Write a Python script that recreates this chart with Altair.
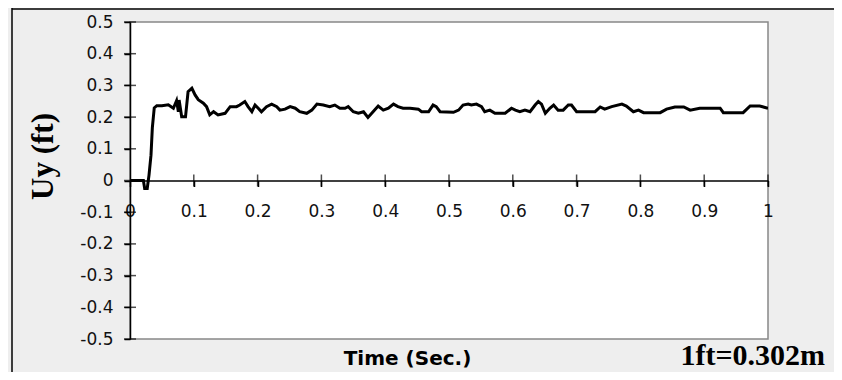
import altair as alt
import pandas as pd

# Time (s) and vertical displacement Uy (ft)
t = [0, 0.021, 0.023, 0.027, 0.0298, 0.0329, 0.035, 0.038, 0.042, 0.050, 0.060, 0.068,
     0.073, 0.0758, 0.077, 0.081, 0.087, 0.091, 0.097, 0.102, 0.107, 0.115, 0.120, 0.125,
     0.131, 0.138, 0.149, 0.157, 0.167, 0.172, 0.180, 0.185, 0.191, 0.196, 0.201, 0.206,
     0.214, 0.222, 0.230, 0.235, 0.243, 0.251, 0.259, 0.266, 0.277, 0.285, 0.293, 0.303,
     0.313, 0.321, 0.329, 0.337, 0.342, 0.350, 0.358, 0.366, 0.373, 0.381, 0.389, 0.397,
     0.405, 0.413, 0.420, 0.428, 0.439, 0.452, 0.457, 0.468, 0.475, 0.480, 0.486, 0.507,
     0.515, 0.522, 0.530, 0.535, 0.543, 0.551, 0.556, 0.564, 0.572, 0.588, 0.598, 0.604,
     0.611, 0.619, 0.627, 0.635, 0.640, 0.645, 0.651, 0.658, 0.664, 0.671, 0.679, 0.687,
     0.692, 0.700, 0.713, 0.729, 0.737, 0.744, 0.755, 0.771, 0.778, 0.789, 0.797, 0.805,
     0.831, 0.841, 0.854, 0.868, 0.878, 0.893, 0.925, 0.930, 0.961, 0.972, 0.987, 1.0]
uy = [0, 0, -0.025, -0.025, 0.017, 0.08, 0.166, 0.229, 0.236, 0.236, 0.239, 0.228,
      0.252, 0.217, 0.254, 0.201, 0.201, 0.280, 0.291, 0.270, 0.255, 0.244, 0.233, 0.207,
      0.217, 0.207, 0.212, 0.233, 0.233, 0.238, 0.249, 0.233, 0.217, 0.238, 0.228, 0.217,
      0.233, 0.241, 0.233, 0.222, 0.225, 0.233, 0.228, 0.217, 0.212, 0.222, 0.241, 0.238,
      0.233, 0.238, 0.228, 0.228, 0.233, 0.217, 0.212, 0.217, 0.199, 0.217, 0.235, 0.222,
      0.228, 0.241, 0.233, 0.228, 0.228, 0.225, 0.217, 0.217, 0.238, 0.233, 0.217, 0.215,
      0.222, 0.238, 0.241, 0.238, 0.241, 0.233, 0.217, 0.222, 0.212, 0.212, 0.228, 0.222,
      0.217, 0.222, 0.217, 0.238, 0.249, 0.241, 0.212, 0.228, 0.238, 0.222, 0.222, 0.238,
      0.238, 0.217, 0.217, 0.217, 0.232, 0.225, 0.233, 0.241, 0.235, 0.217, 0.222, 0.214,
      0.214, 0.225, 0.232, 0.232, 0.222, 0.228, 0.228, 0.214, 0.214, 0.235, 0.235, 0.228]

x_ticks = [0, 0.1, 0.2, 0.3, 0.4, 0.5, 0.6, 0.7, 0.8, 0.9, 1]
y_ticks = [-0.5, -0.4, -0.3, -0.2, -0.1, 0, 0.1, 0.2, 0.3, 0.4, 0.5]
x_title = "Time (Sec.)"
y_title = "Uy (ft)"
note = "1ft=0.302m"

df = pd.DataFrame({"t": t, "uy": uy})
xt_df = pd.DataFrame({"t": x_ticks[1:], "uy": [0] * (len(x_ticks) - 1)})
yt_df = pd.DataFrame({"t": [0] * len(y_ticks), "uy": y_ticks})

label_expr = "replace(format(datum.value, '~g'), '\u2212', '-')"
x_scale = alt.Scale(domain=[0, 1], nice=False)
y_scale = alt.Scale(domain=[-0.5, 0.5], nice=False)

x_axis = alt.Axis(values=x_ticks, orient="bottom", offset=-158.5,
                  labelExpr=label_expr, labelOverlap=False, labelFlush=False,
                  labelBound=False,
                  domainColor="black", domainWidth=1.5, tickColor="black",
                  tickWidth=1.5, tickSize=6, labelPadding=17,
                  labelFont="DejaVu Sans", labelFontSize=17, labelColor="#111111",
                  grid=False, title=x_title, titleFont="DejaVu Sans",
                  titleFontSize=20, titleFontWeight="bold", titleColor="black",
                  titleX=277, titleY=178, titleAlign="center",
                  titleBaseline="middle")
y_axis = alt.Axis(values=y_ticks, labelExpr=label_expr, labelOverlap=False,
                  labelFlush=False, labelBound=False,
                  domainColor="black", domainWidth=1.5,
                  tickColor="black", tickWidth=1.5, tickSize=6, labelPadding=11,
                  labelFont="DejaVu Sans", labelFontSize=17, labelColor="#111111",
                  grid=False, title=y_title, titleFont="Liberation Serif",
                  titleFontSize=31, titleFontWeight="bold", titleColor="black",
                  titleAngle=-90, titleX=-87, titleY=134, titleAlign="center",
                  titleBaseline="middle")

line = alt.Chart(df).mark_line(color="black", strokeWidth=3, clip=True).encode(
    x=alt.X("t:Q", scale=x_scale, axis=x_axis),
    y=alt.Y("uy:Q", scale=y_scale, axis=y_axis),
)

# inner halves of the crossing tick marks
x_tick_marks = alt.Chart(xt_df).mark_tick(color="black", thickness=1.5, size=12,
                                          orient="vertical").encode(
    x=alt.X("t:Q", scale=x_scale, axis=x_axis), y=alt.Y("uy:Q", scale=y_scale, axis=y_axis))
y_tick_marks = alt.Chart(yt_df).mark_tick(color="black", thickness=1.5, size=12,
                                          orient="horizontal").encode(
    x=alt.X("t:Q", scale=x_scale, axis=x_axis), y=alt.Y("uy:Q", scale=y_scale, axis=y_axis))

note_layer = alt.Chart(pd.DataFrame({"note": [note]})).mark_text(
    font="Liberation Serif", fontSize=30, fontWeight="bold", color="black",
    align="right", baseline="alphabetic"
).encode(text="note:N", x=alt.value(695), y=alt.value(343))

frame_left = alt.Chart(pd.DataFrame({"k": [0]})).mark_rule(color="black", strokeWidth=1.5).encode(
    x=alt.value(-118), y=alt.value(-14), y2=alt.value(350))
frame_top = alt.Chart(pd.DataFrame({"k": [0]})).mark_rule(color="black", strokeWidth=1.5).encode(
    x=alt.value(-118), x2=alt.value(704), y=alt.value(-13))

chart = alt.layer(line, x_tick_marks, y_tick_marks, note_layer, frame_left, frame_top).properties(
    width=638, height=317,
    autosize=alt.AutoSizeParams(type="none"),
    padding={"left": 122, "top": 14, "right": 66, "bottom": 33},
    background="#eeeeee",
).configure_view(fill="white", stroke="#888888", strokeWidth=1.5
).configure_axis(labelOverlap=False)

chart.save("out.html", embed_options={"renderer": "svg", "actions": False})
